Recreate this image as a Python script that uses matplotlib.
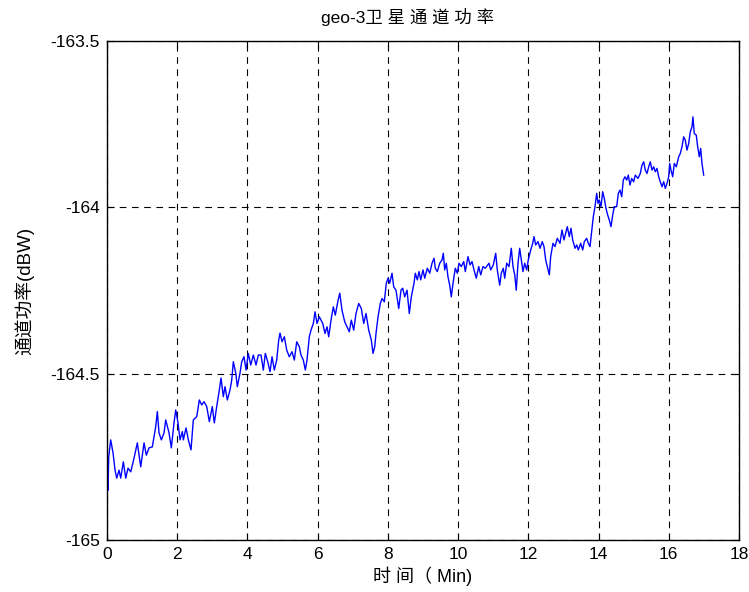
import matplotlib
matplotlib.use('Agg')
import matplotlib.pyplot as plt

plt.rcParams['font.family'] = ['Liberation Sans', 'Noto Sans CJK SC', 'DejaVu Sans']
plt.rcParams['axes.unicode_minus'] = False

TITLE = 'geo-3卫 星 通 道 功 率'
XLABEL = '时 间（ Min)'
YLABEL = '通道功率(dBW)'

XTICKS = [0, 2, 4, 6, 8, 10, 12, 14, 16, 18]
YTICKS = [-165, -164.5, -164, -163.5]
YTICKLABELS = ['-165', '-164.5', '-164', '-163.5']

# time (min)
t_min = [
    0.000, 0.028, 0.048, 0.105, 0.171, 0.228, 0.276, 0.342, 0.390, 0.464,
    0.533, 0.598, 0.675, 0.769, 0.863, 0.960, 1.054, 1.119, 1.196, 1.290,
    1.387, 1.433, 1.481, 1.547, 1.623, 1.672, 1.766, 1.831, 1.908, 1.957,
    2.022, 2.079, 2.145, 2.173, 2.250, 2.316, 2.392, 2.458, 2.555, 2.629,
    2.697, 2.763, 2.840, 2.914, 2.999, 3.056, 3.124, 3.199, 3.247, 3.312,
    3.361, 3.426, 3.503, 3.552, 3.597, 3.666, 3.711, 3.788, 3.837, 3.902,
    3.959, 4.024, 4.093, 4.167, 4.244, 4.309, 4.386, 4.452, 4.509, 4.577,
    4.643, 4.700, 4.765, 4.833, 4.890, 4.927, 4.984, 5.050, 5.118, 5.192,
    5.269, 5.335, 5.403, 5.477, 5.525, 5.591, 5.648, 5.696, 5.762, 5.810,
    5.876, 5.924, 5.981, 6.047, 6.144, 6.209, 6.266, 6.314, 6.380, 6.445,
    6.502, 6.581, 6.630, 6.693, 6.770, 6.836, 6.901, 6.958, 7.026, 7.092,
    7.169, 7.243, 7.312, 7.377, 7.454, 7.528, 7.576, 7.625, 7.662, 7.719,
    7.784, 7.833, 7.898, 7.955, 8.003, 8.052, 8.117, 8.166, 8.231, 8.308,
    8.374, 8.422, 8.479, 8.545, 8.610, 8.667, 8.744, 8.781, 8.838, 8.886,
    8.935, 9.000, 9.049, 9.123, 9.191, 9.257, 9.314, 9.351, 9.408, 9.476,
    9.541, 9.579, 9.618, 9.664, 9.712, 9.761, 9.806, 9.855, 9.920, 9.977,
    10.026, 10.091, 10.160, 10.205, 10.282, 10.339, 10.396, 10.453, 10.518, 10.587,
    10.644, 10.709, 10.775, 10.880, 10.929, 11.003, 11.071, 11.116, 11.185, 11.230,
    11.287, 11.327, 11.384, 11.450, 11.515, 11.564, 11.613, 11.657, 11.706, 11.754,
    11.800, 11.848, 11.897, 11.954, 11.999, 12.068, 12.125, 12.162, 12.210, 12.276,
    12.333, 12.398, 12.446, 12.495, 12.541, 12.598, 12.637, 12.703, 12.760, 12.825,
    12.902, 12.959, 13.016, 13.110, 13.167, 13.216, 13.264, 13.330, 13.378, 13.424,
    13.492, 13.549, 13.595, 13.663, 13.708, 13.757, 13.805, 13.851, 13.899, 13.947,
    13.985, 14.022, 14.070, 14.118, 14.164, 14.212, 14.261, 14.306, 14.355, 14.403,
    14.449, 14.517, 14.563, 14.611, 14.660, 14.705, 14.754, 14.802, 14.848, 14.896,
    14.944, 15.001, 15.047, 15.124, 15.189, 15.238, 15.286, 15.332, 15.380, 15.429,
    15.474, 15.523, 15.571, 15.617, 15.665, 15.714, 15.759, 15.808, 15.856, 15.902,
    15.950, 15.998, 16.027, 16.064, 16.112, 16.158, 16.215, 16.283, 16.329, 16.377,
    16.425, 16.471, 16.519, 16.568, 16.613, 16.662, 16.690, 16.727, 16.784, 16.824,
    16.870, 16.909, 16.947, 16.995,
]

# channel power (dBW)
power_dbw = [
    -164.811, -164.850, -164.750, -164.699, -164.738, -164.790, -164.814, -164.790, -164.814, -164.765,
    -164.814, -164.784, -164.795, -164.754, -164.708, -164.780, -164.708, -164.745, -164.723, -164.720,
    -164.659, -164.614, -164.678, -164.699, -164.678, -164.639, -164.678, -164.723, -164.648, -164.609,
    -164.648, -164.699, -164.674, -164.699, -164.663, -164.699, -164.729, -164.639, -164.629, -164.579,
    -164.594, -164.584, -164.599, -164.644, -164.599, -164.648, -164.599, -164.549, -164.513, -164.569,
    -164.539, -164.579, -164.549, -164.519, -164.464, -164.498, -164.539, -164.498, -164.464, -164.449,
    -164.489, -164.439, -164.474, -164.444, -164.474, -164.444, -164.444, -164.489, -164.439, -164.464,
    -164.494, -164.449, -164.489, -164.459, -164.399, -164.378, -164.404, -164.389, -164.429, -164.449,
    -164.434, -164.459, -164.404, -164.419, -164.444, -164.459, -164.489, -164.459, -164.389, -164.369,
    -164.349, -164.314, -164.349, -164.329, -164.349, -164.379, -164.359, -164.389, -164.339, -164.299,
    -164.324, -164.279, -164.258, -164.309, -164.344, -164.359, -164.374, -164.339, -164.369, -164.319,
    -164.289, -164.304, -164.349, -164.319, -164.369, -164.399, -164.439, -164.419, -164.379, -164.329,
    -164.289, -164.274, -164.284, -164.228, -164.213, -164.228, -164.198, -164.239, -164.249, -164.304,
    -164.249, -164.243, -164.269, -164.249, -164.319, -164.269, -164.228, -164.198, -164.218, -164.193,
    -164.218, -164.188, -164.213, -164.183, -164.198, -164.168, -164.153, -164.183, -164.193, -164.168,
    -164.158, -164.138, -164.188, -164.168, -164.209, -164.234, -164.269, -164.228, -164.183, -164.198,
    -164.168, -164.178, -164.163, -164.193, -164.148, -164.173, -164.163, -164.188, -164.213, -164.178,
    -164.203, -164.178, -164.183, -164.168, -164.188, -164.173, -164.138, -164.188, -164.234, -164.198,
    -164.183, -164.213, -164.168, -164.178, -164.123, -164.178, -164.203, -164.249, -164.168, -164.123,
    -164.158, -164.193, -164.168, -164.188, -164.158, -164.128, -164.108, -164.088, -164.113, -164.103,
    -164.123, -164.103, -164.118, -164.158, -164.178, -164.203, -164.148, -164.108, -164.118, -164.093,
    -164.108, -164.068, -164.098, -164.058, -164.088, -164.063, -164.098, -164.123, -164.113, -164.128,
    -164.108, -164.128, -164.103, -164.093, -164.108, -164.118, -164.073, -164.028, -163.998, -163.958,
    -163.988, -163.978, -163.998, -163.953, -163.973, -164.003, -164.023, -164.038, -164.058, -164.023,
    -163.998, -163.998, -163.958, -163.948, -163.968, -163.918, -163.908, -163.918, -163.903, -163.933,
    -163.913, -163.923, -163.903, -163.913, -163.898, -163.873, -163.863, -163.888, -163.898, -163.878,
    -163.863, -163.888, -163.878, -163.893, -163.883, -163.908, -163.923, -163.938, -163.923, -163.943,
    -163.928, -163.908, -163.868, -163.888, -163.908, -163.868, -163.878, -163.848, -163.838, -163.818,
    -163.788, -163.798, -163.828, -163.808, -163.773, -163.758, -163.728, -163.778, -163.783, -163.818,
    -163.848, -163.823, -163.868, -163.903,
]


def main():
    fig = plt.figure(figsize=(7.49, 5.92), dpi=100)
    ax = fig.add_axes([0.1429, 0.0878, 0.8437, 0.8429])

    ax.plot(t_min, power_dbw, color='#0000ff', lw=1.0)

    ax.set_xlim(0, 18)
    ax.set_ylim(-165, -163.5)
    ax.set_xticks(XTICKS)
    ax.set_xticklabels([str(v) for v in XTICKS])
    ax.set_yticks(YTICKS)
    ax.set_yticklabels(YTICKLABELS)
    ax.tick_params(direction='in', top=True, right=True, length=5,
                   labelsize=12.5, width=0.8, pad=5)
    ax.grid(True, color='black', ls=(0, (6, 5)), lw=0.8)
    for sp in ax.spines.values():
        sp.set_linewidth(1.0)

    ax.set_title(TITLE, fontsize=12.5, pad=13, x=0.475)
    ax.set_xlabel(XLABEL, fontsize=13, labelpad=3)
    ax.set_ylabel(YLABEL, fontsize=13.5, labelpad=12)

    fig.savefig('out.png', dpi=100)


if __name__ == '__main__':
    main()
